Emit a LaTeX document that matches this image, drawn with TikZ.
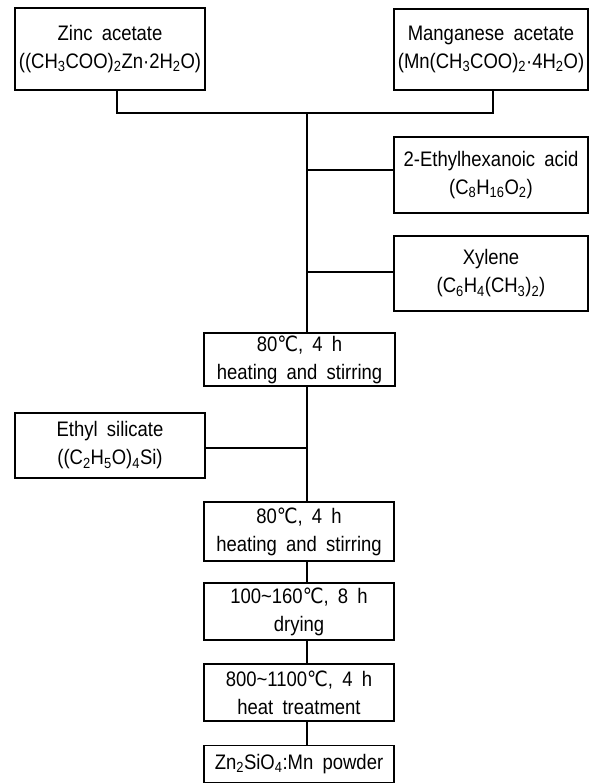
\documentclass[tikz,border=0pt]{standalone}
\usepackage{fontspec}
\setmainfont{Liberation Sans}[WordSpace=1.8, FakeStretch=0.88]
\newfontfamily\dvs{DejaVu Sans}[FakeStretch=0.88]
\newcommand\degC{{\dvs ℃}}
\newcommand\sbs[1]{\textsubscript{#1}}
\begin{document}
\begin{tikzpicture}[x=1pt,y=-1pt,
  box/.style={draw, line width=1.8pt, inner sep=0pt, align=center,
    font=\fontsize{21}{28}\selectfont},
  ln/.style={line width=1.8pt}]
\useasboundingbox (0,0) rectangle (589,784);
\node[box, minimum width=190pt, minimum height=82pt] (zinc) at (110,49)
  {Zinc acetate\\((CH\sbs{3}COO)\sbs{2}Zn·2H\sbs{2}O)};
\node[box, minimum width=194pt, minimum height=81pt] (mn) at (491,49.5)
  {Manganese acetate\\(Mn(CH\sbs{3}COO)\sbs{2}·4H\sbs{2}O)};
\node[box, minimum width=194pt, minimum height=76pt] (eth) at (491,175)
  {2-Ethylhexanoic acid\\(C\sbs{8}H\sbs{16}O\sbs{2})};
\node[box, minimum width=194pt, minimum height=75pt] (xyl) at (491,273.5)
  {Xylene\\(C\sbs{6}H\sbs{4}(CH\sbs{3})\sbs{2})};
\node[box, minimum width=191pt, minimum height=53pt] (b1) at (299.5,359.5)
  {80\degC, 4 h\\heating and stirring};
\node[box, minimum width=190pt, minimum height=65pt] (si) at (110,445.5)
  {Ethyl silicate\\((C\sbs{2}H\sbs{5}O)\sbs{4}Si)};
\node[box, minimum width=190pt, minimum height=59pt] (b2) at (299,531.5)
  {80\degC, 4 h\\heating and stirring};
\node[box, minimum width=190pt, minimum height=57pt] (b3) at (299,611.5)
  {100\textasciitilde160\degC, 8 h\\drying};
\node[box, minimum width=190pt, minimum height=57pt] (b4) at (299,692.5)
  {800\textasciitilde1100\degC, 4 h\\heat treatment};
\node[box, minimum width=190pt, minimum height=37pt] (b5) at (299,764)
  {Zn\sbs{2}SiO\sbs{4}:Mn powder};
% trunk
\coordinate (t) at (307,0);
\coordinate (top) at (307,113);
\coordinate (zs) at (117,113);
\coordinate (ms) at (493,113);
\draw[ln] (zs |- zinc.south) -- (zs) -- (ms) -- (ms |- mn.south);
\draw[ln] (top) -- (t |- b1.north);
\coordinate (j1) at (307,170);
\coordinate (j2) at (307,272);
\draw[ln] (j1) -- (j1 -| eth.west);
\draw[ln] (j2) -- (j2 -| xyl.west);
\coordinate (j3) at (307,448);
\draw[ln] (t |- b1.south) -- (t |- b2.north);
\draw[ln] (j3) -- (j3 -| si.east);
\draw[ln] (t |- b2.south) -- (t |- b3.north);
\draw[ln] (t |- b3.south) -- (t |- b4.north);
\draw[ln] (t |- b4.south) -- (t |- b5.north);
\end{tikzpicture}
\end{document}
